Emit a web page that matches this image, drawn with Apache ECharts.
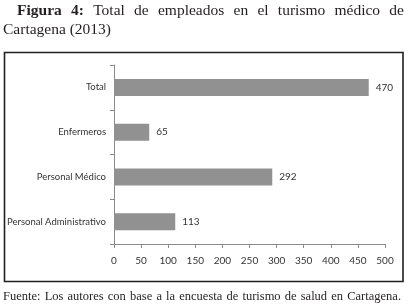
<!DOCTYPE html>
<html><head><meta charset="utf-8">
<script src="https://cdn.jsdelivr.net/npm/echarts@6/dist/echarts.min.js"></script>
<style>html,body{margin:0;padding:0;background:#fff}#c{width:410px;height:307px}</style>
</head><body><div id="c"></div>
<script>
const categories = ['Personal Administrativo', 'Personal Médico', 'Enfermeros', 'Total'];
const values = [113, 292, 65, 470];
const xTicks = [0, 50, 100, 150, 200, 250, 300, 350, 400, 450, 500];
const titleLine1 = [['Figura', true], ['4:', true], ['Total', false], ['de', false], ['empleados', false], ['en', false], ['el', false], ['turismo', false], ['médico', false], ['de', false]];
const titleLine2 = 'Cartagena (2013)';
const footerWords = 'Fuente: Los autores con base a la encuesta de turismo de salud en Cartagena.'.split(' ');

const serif = '"Liberation Serif", "DejaVu Serif", serif';
const narrow = 'Lato, "Liberation Sans", sans-serif';
const ctx = document.createElement('canvas').getContext('2d');
function justify(words, x0, x1, y, size) {
  const ws = words.map(w => { ctx.font = (w[1] ? 'bold ' : '') + size + 'px ' + serif; return ctx.measureText(w[0]).width; });
  const total = ws.reduce((a, b) => a + b, 0);
  const gap = (x1 - x0 - total) / (words.length - 1);
  let x = x0; const out = [];
  words.forEach((w, i) => {
    out.push({ type: 'text', x: x, y: y, silent: true,
      style: { text: w[0], fontFamily: serif, fontSize: size, fontWeight: w[1] ? 'bold' : 'normal', fill: '#231f20', textVerticalAlign: 'middle' } });
    x += ws[i] + gap;
  });
  return out;
}
const graphics = [].concat(
  justify(titleLine1, 17, 404, 10.5, 15.5),
  [{ type: 'text', x: 3, y: 29.5, silent: true, style: { text: titleLine2, fontFamily: serif, fontSize: 15.5, fill: '#231f20', textVerticalAlign: 'middle' } }],
  justify(footerWords.map(w => [w, false]), 3, 401, 297, 12.5),
  [{ type: 'rect', shape: { x: 4.5, y: 52.5, width: 398.5, height: 229 }, silent: true, style: { fill: 'none', stroke: '#231f20', lineWidth: 1.6 } }]
);

const chart = echarts.init(document.getElementById('c'), null, { renderer: 'canvas' });
chart.setOption({
  animation: false,
  backgroundColor: '#fff',
  grid: { left: 114, right: 25, top: 65, bottom: 63, containLabel: false, outerBoundsMode: 'none' },
  xAxis: {
    type: 'value', min: xTicks[0], max: xTicks[xTicks.length - 1], interval: 50,
    axisLine: { show: true, lineStyle: { color: '#8a8a8a', width: 1 } },
    axisTick: { show: true, length: 4, lineStyle: { color: '#8a8a8a' } },
    splitLine: { show: false },
    axisLabel: { margin: 12, color: '#333', fontFamily: narrow, fontSize: 10 }
  },
  yAxis: {
    type: 'category', data: categories,
    axisLine: { show: true, lineStyle: { color: '#8a8a8a', width: 1 } },
    axisTick: { show: true, length: 4, lineStyle: { color: '#8a8a8a' } },
    axisLabel: { margin: 8, color: '#333', fontFamily: narrow, fontSize: 9.5 }
  },
  series: [{
    type: 'bar', data: values, barWidth: 17,
    itemStyle: { color: '#919191' },
    label: { show: true, position: 'right', distance: 7, color: '#333', fontFamily: narrow, fontSize: 10 }
  }],
  graphic: graphics
});
</script></body></html>
